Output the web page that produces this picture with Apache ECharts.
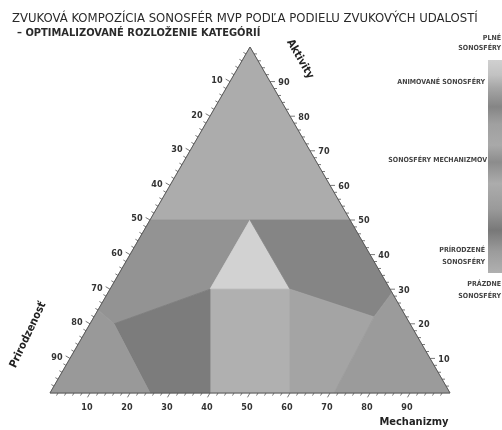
<!DOCTYPE html>
<html><head><meta charset="utf-8">
<script src="https://cdn.jsdelivr.net/npm/echarts@6/dist/echarts.min.js"></script>
<style>html,body{margin:0;padding:0;background:#fff}#c{width:502px;height:430px}</style>
</head><body><div id="c"></div>
<script>
// ---- data (ternary vertices as [Aktivity, Mechanizmy, Prirodzenosť] in %) ----
const regionTop        = [[100,0,0],[50,0,50],[50,50,0]];
const regionLeftUpper  = [[50,0,50],[50,25,25],[30,25,45],[20,6,74],[24,0,76]];
const regionCenterTri  = [[50,25,25],[30,25,45],[30,45,25]];
const regionRightUpper = [[50,25,25],[50,50,0],[29,71,0],[22,70,8],[30,45,25]];
const regionCenterRect = [[30,25,45],[30,45,25],[0,60,40],[0,40,60]];
const regionDarkLeft   = [[30,25,45],[0,40,60],[0,25,75],[20,6,74]];
const regionLeftLower  = [[24,0,76],[20,6,74],[0,25,75],[0,0,100]];
const regionRightMid   = [[30,45,25],[22,70,8],[0,71,29],[0,60,40]];
const regionRightLower = [[29,71,0],[0,100,0],[0,71,29],[22,70,8]];
const regions = [regionTop, regionLeftUpper, regionCenterTri, regionRightUpper, regionCenterRect,
                 regionDarkLeft, regionLeftLower, regionRightMid, regionRightLower];
const regionColors = ['#acacac','#939393','#d2d2d2','#858585','#b0b0b0','#7c7c7c','#999999','#a4a4a4','#9b9b9b'];
const tickLabels = [10,20,30,40,50,60,70,80,90];
const minorTicks = [2,4,6,8,10,12,14,16,18,20,22,24,26,28,30,32,34,36,38,40,42,44,46,48,50,52,54,56,58,60,62,64,66,68,70,72,74,76,78,80,82,84,86,88,90,92,94,96,98];
const axisNames = ['Aktivity','Prirodzenosť','Mechanizmy'];
const legendLabels = ['PLNÉ\nSONOSFÉRY','ANIMOVANÉ SONOSFÉRY','SONOSFÉRY MECHANIZMOV','PRÍRODZENÉ\nSONOSFÉRY','PRÁZDNE\nSONOSFÉRY'];

const S3 = Math.sqrt(3)/2;
function toXY(t){ const s=t[0]+t[1]+t[2]; const a=t[0]/s, m=t[1]/s; return [m + a/2, a*S3]; }
const FONT = '"Liberation Sans Narrow","DejaVu Sans Condensed","Liberation Sans",sans-serif';

const chart = echarts.init(document.getElementById('c'));

function renderRegion(params, api){
  const i = api.value(0);
  const pts = regions[i].map(t => api.coord(toXY(t)));
  return {type:'polygon', shape:{points:pts}, style:{fill:regionColors[i], stroke:regionColors[i], lineWidth:0.8}};
}

function renderFrame(params, api){
  const ch = [];
  const A = api.coord([0.5,S3]), L = api.coord([0,0]), R = api.coord([1,0]);
  ch.push({type:'polygon', shape:{points:[A,L,R]}, style:{fill:'none', stroke:'#5a5a5a', lineWidth:1}});
  const tick = (p, dx, dy, len) => ({type:'line', shape:{x1:p[0],y1:p[1],x2:p[0]+dx*len,y2:p[1]+dy*len}, style:{stroke:'#555',lineWidth:0.8}});
  minorTicks.forEach(v => {
    const len = v % 10 === 0 ? 5 : 3;
    const pb = api.coord(toXY([0,v,100-v]));
    ch.push(tick(pb, -0.5, 0.866, len));
    const pl = api.coord(toXY([100-v,0,v]));
    ch.push(tick(pl, -0.866, -0.5, len));
    const pr = api.coord(toXY([v,100-v,0]));
    ch.push(tick(pr, 1, 0, len));
  });
  const ts = {fontSize:9, fontFamily:FONT, fill:'#333', fontWeight:'bold'};
  tickLabels.forEach(v => {
    const pb = api.coord(toXY([0,v,100-v]));
    ch.push({type:'text', x:pb[0]-3, y:pb[1]+15, style:Object.assign({text:String(v), align:'center', verticalAlign:'middle'}, ts)});
    const pl = api.coord(toXY([100-v,0,v]));
    ch.push({type:'text', x:pl[0]-13, y:pl[1]-1, style:Object.assign({text:String(v), align:'center', verticalAlign:'middle'}, ts)});
    const pr = api.coord(toXY([v,100-v,0]));
    ch.push({type:'text', x:pr[0]+14, y:pr[1]+1, style:Object.assign({text:String(v), align:'center', verticalAlign:'middle'}, ts)});
  });
  const ns = {fontSize:11, fontFamily:FONT, fill:'#222', fontWeight:'bold', align:'center', verticalAlign:'middle'};
  ch.push({type:'text', x:A[0]+50, y:A[1]+12, rotation:-Math.PI/3, style:Object.assign({text:axisNames[0]}, ns)});
  ch.push({type:'text', x:L[0]-22, y:L[1]-58, rotation:Math.PI*0.36, style:Object.assign({text:axisNames[1]}, ns)});
  ch.push({type:'text', x:R[0]-36, y:R[1]+29, style:Object.assign({text:axisNames[2], fontSize:11.5}, ns)});
  return {type:'group', children:ch};
}

const ls = {fontSize:7, fontFamily:FONT, fill:'#444', fontWeight:'bold', align:'right', verticalAlign:'top'};
chart.setOption({
  animation:false,
  backgroundColor:'#ffffff',
  title:[
    {text:'ZVUKOVÁ KOMPOZÍCIA SONOSFÉR MVP PODĽA PODIELU ZVUKOVÝCH UDALOSTÍ', left:7, top:7,
     textStyle:{fontSize:13, fontWeight:'normal', color:'#2a2a2a', fontFamily:FONT}},
    {text:'– OPTIMALIZOVANÉ ROZLOŽENIE KATEGÓRIÍ', left:12, top:23,
     textStyle:{fontSize:11, fontWeight:'bold', color:'#2a2a2a', fontFamily:FONT}}
  ],
  grid:{left:50, right:52, top:47, bottom:37},
  xAxis:{type:'value', min:0, max:1, show:false},
  yAxis:{type:'value', min:0, max:S3, show:false},
  series:[
    {type:'custom', renderItem:renderRegion, data:regions.map((r,i)=>[i]), silent:true},
    {type:'custom', renderItem:renderFrame, data:[[0]], silent:true, clip:false}
  ],
  graphic:[
    {type:'rect', left:488, top:60, shape:{width:16, height:213}, style:{fill:new echarts.graphic.LinearGradient(0,0,0,1,[
      {offset:0,color:'#d0d0d0'},{offset:0.07,color:'#c2c2c2'},{offset:0.13,color:'#a6a6a6'},
      {offset:0.22,color:'#858585'},{offset:0.3,color:'#a0a0a0'},{offset:0.4,color:'#a9a9a9'},
      {offset:0.48,color:'#8c8c8c'},{offset:0.58,color:'#acacac'},{offset:0.7,color:'#9a9a9a'},
      {offset:0.8,color:'#787878'},{offset:0.9,color:'#9c9c9c'},{offset:1,color:'#b0b0b0'}])}},
    {type:'text', x:501, y:33, style:Object.assign({text:legendLabels[0], lineHeight:10}, ls)},
    {type:'text', x:485, y:79, style:Object.assign({text:legendLabels[1]}, ls)},
    {type:'text', x:487, y:157, style:Object.assign({text:legendLabels[2]}, ls)},
    {type:'text', x:485, y:244, style:Object.assign({text:legendLabels[3], lineHeight:12}, ls)},
    {type:'text', x:501, y:278, style:Object.assign({text:legendLabels[4], lineHeight:12}, ls)}
  ]
});
</script></body></html>
